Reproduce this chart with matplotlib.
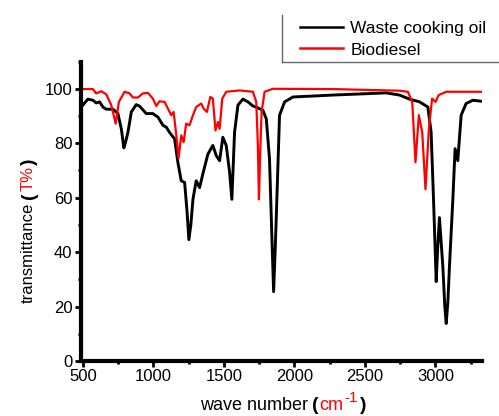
"""FTIR spectra: waste cooking oil vs. biodiesel."""
import matplotlib
matplotlib.use("Agg")
import matplotlib.pyplot as plt
from matplotlib.lines import Line2D
from matplotlib.transforms import IdentityTransform

plt.rcParams["font.family"] = ["Liberation Sans", "DejaVu Sans"]

# ── Data ─────────────────────────────────────────────────────────────────
wco_x = [483, 535, 571, 594, 618, 642, 665, 713, 748, 772, 790, 800, 819, 843,
         878, 902, 949, 996, 1032, 1067, 1091, 1114, 1150, 1173, 1197, 1221,
         1238, 1251, 1265, 1280, 1303, 1327, 1350, 1386, 1421, 1445, 1469,
         1492, 1516, 1540, 1556, 1575, 1599, 1634, 1670, 1705, 1740, 1776,
         1800, 1823, 1840, 1852, 1864, 1875, 1894, 1930, 1989, 2154, 2272,
         2508, 2650, 2745, 2816, 2887, 2946, 2969, 2986, 3005, 3016, 3028,
         3052, 3066, 3076, 3088, 3099, 3123, 3139, 3158, 3182, 3217, 3265, 3328]
wco_y = [93.0, 96.2, 95.8, 94.8, 95.2, 93.3, 92.5, 92.5, 90.9, 85.3, 78.3, 80.0,
         84.0, 91.5, 94.2, 93.6, 90.9, 90.9, 89.6, 86.6, 85.9, 84.0, 81.6, 73.0,
         66.2, 65.6, 55.0, 44.6, 50.0, 59.4, 66.2, 63.7, 68.7, 76.0, 79.2, 75.5,
         73.6, 82.2, 79.2, 69.3, 59.4, 84.0, 94.0, 96.2, 95.2, 93.7, 93.0, 92.1,
         89.0, 74.2, 45.0, 25.5, 42.0, 59.4, 90.3, 95.2, 97.0, 97.4, 97.7,
         98.2, 98.5, 97.7, 96.2, 95.2, 93.3, 84.0, 59.4, 29.2, 42.0, 52.7,
         34.8, 20.0, 13.8, 22.0, 34.8, 59.4, 78.0, 73.6, 90.3, 94.6, 95.8, 95.4]

bio_x = [483, 571, 594, 630, 665, 701, 732, 755, 795, 831, 854, 890, 925, 961,
         996, 1020, 1043, 1079, 1103, 1126, 1143, 1162, 1178, 1197, 1214, 1232,
         1256, 1280, 1303, 1339, 1356, 1379, 1403, 1421, 1440, 1457, 1469, 1488,
         1516, 1611, 1705, 1729, 1740, 1748, 1756, 1767, 1788, 1847, 2272, 2745,
         2804, 2835, 2858, 2882, 2906, 2929, 2953, 2976, 3000, 3023, 3076, 3328]
bio_y = [99.9, 99.9, 98.3, 99.1, 98.0, 94.0, 87.2, 95.2, 98.9, 98.3, 96.8, 96.8,
         98.3, 98.5, 96.4, 93.7, 95.4, 95.2, 92.7, 90.3, 91.5, 82.9, 74.5, 82.9,
         80.4, 87.2, 86.6, 90.3, 93.3, 94.6, 92.7, 91.5, 97.0, 96.4, 84.7, 87.8,
         85.3, 96.4, 98.9, 99.4, 98.9, 95.2, 80.0, 59.4, 75.0, 91.5, 98.9, 100.0,
         99.9, 99.3, 98.9, 95.2, 73.0, 90.3, 84.0, 63.1, 85.3, 96.4, 95.2, 97.7,
         98.9, 98.9]

x_ticks = [500, 1000, 1500, 2000, 2500, 3000]
y_ticks = [0, 20, 40, 60, 80, 100]


def chain_text(fig, x, y, pieces, rotation=0):
    """Place text pieces one after another (pixel coords), left->right or bottom->top."""
    renderer = fig.canvas.get_renderer()
    for text, dx, dy, kw in pieces:
        if rotation:
            t = fig.text(x - dy, y + dx, text, rotation=90, rotation_mode="anchor",
                         ha="left", va="baseline", transform=IdentityTransform(), **kw)
            y = t.get_window_extent(renderer).y1
        else:
            t = fig.text(x + dx, y + dy, text, ha="left", va="baseline",
                         transform=IdentityTransform(), **kw)
            x = t.get_window_extent(renderer).x1


fig = plt.figure(figsize=(4.99, 4.16), dpi=100)
ax = fig.add_axes([0.162, 0.132, 0.804, 0.72])

ax.plot(wco_x, wco_y, color="black", lw=2.1, label="Waste cooking oil")
ax.plot(bio_x, bio_y, color="red", lw=1.6, label="Biodiesel")

ax.set_xlim(485, 3330)
ax.set_ylim(0, 110)
ax.set_xticks(x_ticks)
ax.set_yticks(y_ticks)
ax.set_xticks([750, 1250, 1750, 2250, 2750, 3250], minor=True)
ax.set_yticks([10, 30, 50, 70, 90, 110], minor=True)
ax.tick_params(which="major", direction="out", length=4, width=2, labelsize=12,
               pad=2)
ax.tick_params(which="minor", direction="out", length=2.5, width=2)
for side in ("top", "right"):
    ax.spines[side].set_visible(False)
for side in ("left", "bottom"):
    ax.spines[side].set_linewidth(3)

# legend, framed only on its left and bottom edges
handles = [Line2D([], [], color="black", lw=1.8), Line2D([], [], color="red", lw=1.8)]
fig.legend(handles, ["Waste cooking oil", "Biodiesel"], loc="upper left",
           bbox_to_anchor=(0.601, 0.950), frameon=False, fontsize=12.5,
           handlelength=2.5, handletextpad=0.4, labelspacing=0.37,
           borderpad=0, borderaxespad=0)
fig.add_artist(Line2D([0.565, 0.565], [0.851, 0.965], color="#666666", lw=1,
                      transform=fig.transFigure))
fig.add_artist(Line2D([0.565, 1.0], [0.851, 0.851], color="#666666", lw=1,
                      transform=fig.transFigure))

fig.canvas.draw()
paren = dict(fontsize=14, fontweight="bold")
chain_text(fig, 200, 6, [
    ("wave number", 0, 0, dict(fontsize=13)),
    ("(", 4, 0, paren),
    ("cm", 1, 0, dict(fontsize=13, color="red")),
    ("-1", 1, 8, dict(fontsize=11, color="red")),
    (")", 2, 0, paren),
])
chain_text(fig, 33, 113, [
    ("transmittance", 0, 0, dict(fontsize=12)),
    ("(", 4, -1, paren),
    ("T%", 1, 0, dict(fontsize=12, color="red")),
    (")", 1, -1, paren),
], rotation=90)

fig.savefig("out.png", dpi=100)
